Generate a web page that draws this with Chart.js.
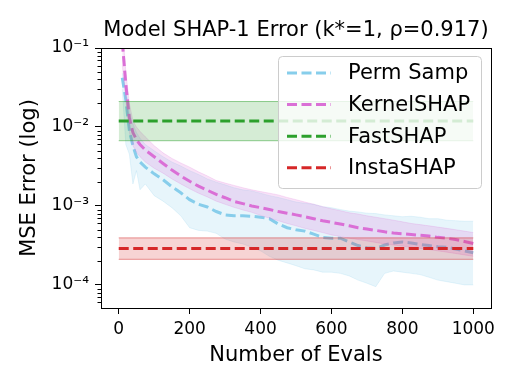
<!DOCTYPE html>
<html>
<head>
<meta charset="utf-8">
<script src="https://cdn.jsdelivr.net/npm/chart.js@4.4.0/dist/chart.umd.min.js"></script>
<style>
html, body { margin: 0; padding: 0; background: #fff; }
#chart { display: block; }
</style>
</head>
<body>
<canvas id="chart" width="515" height="386"></canvas>
<script>
const evals = [10, 20, 30, 40, 50, 60, 75, 100, 125, 150, 175, 200, 225, 250, 275, 300, 325, 350, 375, 400,
    425, 450, 475, 500, 525, 550, 575, 600, 625, 650, 675, 700, 725, 750, 775, 800, 825, 850, 875, 900,
    925, 950, 975, 1000];

const permMean = [0.042, 0.022, 9e-3, 5.8e-3, 4.2e-3, 3.6e-3, 3.1e-3, 2.55e-3, 2.15e-3, 1.75e-3, 1.47e-3, 1.2e-3,
    1.05e-3, 9.7e-4, 8.5e-4, 7.7e-4, 7.5e-4, 7.5e-4, 7.4e-4, 7.2e-4, 6.9e-4, 5.9e-4, 5.3e-4, 5.0e-4, 4.8e-4,
    4.4e-4, 4.0e-4, 3.9e-4, 3.9e-4, 3.5e-4, 3.15e-4, 2.95e-4, 2.9e-4, 3.2e-4, 3.4e-4, 3.5e-4, 3.4e-4, 3.25e-4,
    3.15e-4, 3.05e-4, 3.0e-4, 2.85e-4, 2.7e-4, 2.55e-4];
const permUpper = [0.048, 0.03, 0.016, 0.011, 8.5e-3, 7.2e-3, 6e-3, 5e-3, 4.2e-3, 3.6e-3, 3.2e-3, 2.8e-3,
    2.5e-3, 2.2e-3, 2.0e-3, 1.85e-3, 1.7e-3, 1.6e-3, 1.55e-3, 1.45e-3, 1.35e-3, 1.28e-3, 1.2e-3, 1.12e-3,
    1.08e-3, 1.05e-3, 9.8e-4, 9.5e-4, 9.0e-4, 8.6e-4, 8.4e-4, 8.1e-4, 8.0e-4, 7.7e-4, 7.5e-4, 7.3e-4, 7.4e-4,
    7.2e-4, 6.9e-4, 6.9e-4, 6.6e-4, 6.5e-4, 6.4e-4, 6.4e-4];
const permLower = [0.03, 6e-3, 4.5e-3, 1.9e-3, 2.8e-3, 1.6e-3, 1.9e-3, 1.35e-3, 1.15e-3, 9.5e-4, 7.5e-4, 5.3e-4,
    4.9e-4, 4.8e-4, 4.5e-4, 3.8e-4, 3.5e-4, 3.3e-4, 3.0e-4, 2.7e-4, 2.3e-4, 2.05e-4, 1.9e-4, 1.75e-4, 1.6e-4,
    1.55e-4, 1.45e-4, 1.45e-4, 1.4e-4, 1.3e-4, 1.15e-4, 1.05e-4, 9.5e-5, 1.4e-4, 1.5e-4, 1.45e-4, 1.4e-4,
    1.35e-4, 1.25e-4, 1.15e-4, 1.1e-4, 1.05e-4, 1.0e-4, 1.0e-4];

const kernelMean = [0.12, 0.035, 0.013, 8.5e-3, 6.9e-3, 6.0e-3, 5.1e-3, 4.2e-3, 3.45e-3, 2.85e-3, 2.4e-3, 2.05e-3,
    1.78e-3, 1.58e-3, 1.4e-3, 1.27e-3, 1.14e-3, 1.07e-3, 1.0e-3, 9.5e-4, 9.0e-4, 8.5e-4, 8.1e-4, 7.7e-4, 7.3e-4,
    6.9e-4, 6.5e-4, 6.2e-4, 5.9e-4, 5.6e-4, 5.3e-4, 5.1e-4, 4.9e-4, 4.7e-4, 4.55e-4, 4.45e-4, 4.35e-4, 4.25e-4,
    4.15e-4, 4.0e-4, 3.9e-4, 3.75e-4, 3.55e-4, 3.35e-4];
const kernelUpper = [0.2, 0.05, 0.02, 0.012, 1.0e-2, 8.8e-3, 7.5e-3, 5.8e-3, 4.7e-3, 4.0e-3, 3.5e-3, 3.1e-3,
    2.7e-3, 2.4e-3, 2.1e-3, 1.95e-3, 1.82e-3, 1.7e-3, 1.6e-3, 1.52e-3, 1.45e-3, 1.38e-3, 1.28e-3, 1.2e-3,
    1.12e-3, 1.05e-3, 9.8e-4, 9.2e-4, 8.7e-4, 8.2e-4, 7.9e-4, 7.5e-4, 7.2e-4, 6.9e-4, 6.6e-4, 6.3e-4, 6.0e-4,
    5.8e-4, 5.6e-4, 5.4e-4, 5.2e-4, 5.0e-4, 4.8e-4, 4.6e-4];
const kernelLower = [0.06, 0.022, 8.5e-3, 5.8e-3, 4.8e-3, 4.2e-3, 3.6e-3, 3.0e-3, 2.6e-3, 2.2e-3, 1.9e-3, 1.65e-3,
    1.45e-3, 1.3e-3, 1.15e-3, 1.05e-3, 9.6e-4, 8.9e-4, 8.3e-4, 7.6e-4, 7.0e-4, 6.5e-4, 6.0e-4, 5.6e-4, 5.2e-4,
    4.9e-4, 4.6e-4, 4.3e-4, 4.1e-4, 3.9e-4, 3.75e-4, 3.6e-4, 3.45e-4, 3.3e-4, 3.2e-4, 3.1e-4, 3.0e-4, 2.9e-4,
    2.8e-4, 2.7e-4, 2.6e-4, 2.5e-4, 2.4e-4, 2.3e-4];

const flatEvals = [0, 1000];
const fastMean = [1.19e-2, 1.19e-2];
const fastUpper = [2.1e-2, 2.1e-2];
const fastLower = [6.7e-3, 6.7e-3];
const instaMean = [2.9e-4, 2.9e-4];
const instaUpper = [3.94e-4, 3.94e-4];
const instaLower = [2.11e-4, 2.11e-4];

const xTickValues = [0, 200, 400, 600, 800, 1000];
const yTickValues = [1e-4, 1e-3, 1e-2, 1e-1];
const yTickLabels = ['10⁻⁴', '10⁻³', '10⁻²', '10⁻¹'];
const seriesNames = ['Perm Samp', 'KernelSHAP', 'FastSHAP', 'InstaSHAP'];

const FONT = "'DejaVu Sans', sans-serif";
const colors = {
    perm: '#87ceeb',
    kernel: '#da70d6',
    fast: '#2ca02c',
    insta: '#d62728'
};
const DASH = [10, 4.5];

function pts(xs, ys) {
    return xs.map((x, i) => ({ x: x, y: ys[i] }));
}

function rgba(hex, a) {
    const n = parseInt(hex.slice(1), 16);
    return `rgba(${(n >> 16) & 255}, ${(n >> 8) & 255}, ${n & 255}, ${a})`;
}

function meanLine(label, xs, ys, color, order) {
    return {
        label: label, data: pts(xs, ys), borderColor: color, borderWidth: 3, borderDash: DASH,
        pointRadius: 0, fill: false, order: order
    };
}

function bandEdge(xs, ys, color, edgeAlpha, order) {
    return {
        label: '', data: pts(xs, ys), borderColor: rgba(color, edgeAlpha), borderWidth: 1,
        pointRadius: 0, fill: false, order: order
    };
}

function bandFill(xs, ys, color, edgeAlpha, order) {
    return {
        label: '', data: pts(xs, ys), borderColor: rgba(color, edgeAlpha), borderWidth: 1,
        backgroundColor: rgba(color, 0.2), pointRadius: 0, fill: '-1', order: order
    };
}

const datasets = [
    meanLine('Perm Samp', evals, permMean, colors.perm, 8),
    bandEdge(evals, permUpper, colors.perm, 0.2, 7),
    bandFill(evals, permLower, colors.perm, 0.2, 7),
    meanLine('KernelSHAP', evals, kernelMean, colors.kernel, 6),
    bandEdge(evals, kernelUpper, colors.kernel, 0.2, 5),
    bandFill(evals, kernelLower, colors.kernel, 0.2, 5),
    meanLine('FastSHAP', flatEvals, fastMean, colors.fast, 4),
    bandEdge(flatEvals, fastUpper, colors.fast, 0.5, 3),
    bandFill(flatEvals, fastLower, colors.fast, 0.5, 3),
    meanLine('InstaSHAP', flatEvals, instaMean, colors.insta, 2),
    bandEdge(flatEvals, instaUpper, colors.insta, 0.5, 1),
    bandFill(flatEvals, instaLower, colors.insta, 0.5, 1)
];

// minor log ticks + full frame like matplotlib spines
const framePlugin = {
    id: 'frame',
    afterDatasetsDraw(chart) {
        const ctx = chart.ctx;
        const area = chart.chartArea;
        const y = chart.scales.y;
        ctx.save();
        ctx.strokeStyle = '#000';
        ctx.lineWidth = 1;
        for (let k = -6; k <= -1; k++) {
            for (let m = 2; m <= 9; m++) {
                const v = m * Math.pow(10, k);
                if (v < y.min || v > y.max) continue;
                const py = Math.round(y.getPixelForValue(v)) + 0.5;
                ctx.beginPath();
                ctx.moveTo(area.left, py);
                ctx.lineTo(area.left - 3.5, py);
                ctx.stroke();
            }
        }
        ctx.strokeRect(Math.round(area.left) + 0.5, Math.round(area.top) + 0.5,
            Math.round(area.right - area.left), Math.round(area.bottom - area.top));
        ctx.restore();
    }
};

const legendPlugin = {
    id: 'innerLegend',
    afterDraw(chart) {
        const ctx = chart.ctx;
        const box = { x: 278.5, y: 56.5, w: 203, h: 132 };
        const lineColors = [colors.perm, colors.kernel, colors.fast, colors.insta];
        ctx.save();
        ctx.beginPath();
        ctx.roundRect(box.x, box.y, box.w, box.h, 4);
        ctx.fillStyle = 'rgba(255, 255, 255, 0.8)';
        ctx.fill();
        ctx.strokeStyle = '#cccccc';
        ctx.lineWidth = 1;
        ctx.stroke();
        ctx.font = `21px ${FONT}`;
        ctx.textBaseline = 'middle';
        ctx.textAlign = 'left';
        seriesNames.forEach((name, i) => {
            const ry = 73 + i * 31.6;
            ctx.beginPath();
            ctx.setLineDash(DASH);
            ctx.strokeStyle = lineColors[i];
            ctx.lineWidth = 3;
            ctx.moveTo(287, ry);
            ctx.lineTo(331, ry);
            ctx.stroke();
            ctx.setLineDash([]);
            ctx.fillStyle = '#000';
            ctx.fillText(name, 348, ry + 1);
        });
        ctx.restore();
    }
};

new Chart(document.getElementById('chart'), {
    type: 'line',
    data: { datasets: datasets },
    options: {
        responsive: false,
        animation: false,
        devicePixelRatio: 1,
        layout: { padding: { left: 0, right: 24, top: 0, bottom: 0 } },
        plugins: {
            legend: { display: false },
            tooltip: { enabled: false },
            title: {
                display: true,
                text: 'Model SHAP-1 Error (k*=1, ρ=0.917)',
                color: '#000',
                fullSize: false,
                font: { family: FONT, size: 21, weight: 'normal' },
                padding: { top: 18, bottom: 4.8 }
            }
        },
        scales: {
            x: {
                type: 'linear',
                min: -50,
                max: 1050,
                afterBuildTicks: s => { s.ticks = xTickValues.map(v => ({ value: v })); },
                afterFit: s => { s.height = 78; },
                ticks: {
                    color: '#000', font: { family: FONT, size: 17 }, padding: 5, maxRotation: 0, autoSkip: false,
                    callback: v => String(v)
                },
                grid: { drawOnChartArea: false, drawTicks: true, tickLength: 6, tickColor: '#000', tickWidth: 1 },
                border: { display: false },
                title: {
                    display: true, text: 'Number of Evals', color: '#000',
                    font: { family: FONT, size: 21 }, padding: { top: 0, bottom: 17.4 }
                }
            },
            y: {
                type: 'logarithmic',
                min: 5.1e-5,
                max: 0.1,
                afterBuildTicks: s => { s.ticks = yTickValues.map(v => ({ value: v })); },
                afterFit: s => { s.width = 101; },
                ticks: {
                    color: '#000', font: { family: FONT, size: 17 }, padding: 6, autoSkip: false,
                    callback: v => {
                        const i = yTickValues.findIndex(t => Math.abs(t - v) / t < 1e-6);
                        return i >= 0 ? yTickLabels[i] : '';
                    }
                },
                grid: { drawOnChartArea: false, drawTicks: true, tickLength: 6, tickColor: '#000', tickWidth: 1 },
                border: { display: false },
                title: {
                    display: true, text: 'MSE Error (log)', color: '#000',
                    font: { family: FONT, size: 21 }, padding: { top: 17.4, bottom: 0 }
                }
            }
        }
    },
    plugins: [framePlugin, legendPlugin]
});
</script>
</body>
</html>
